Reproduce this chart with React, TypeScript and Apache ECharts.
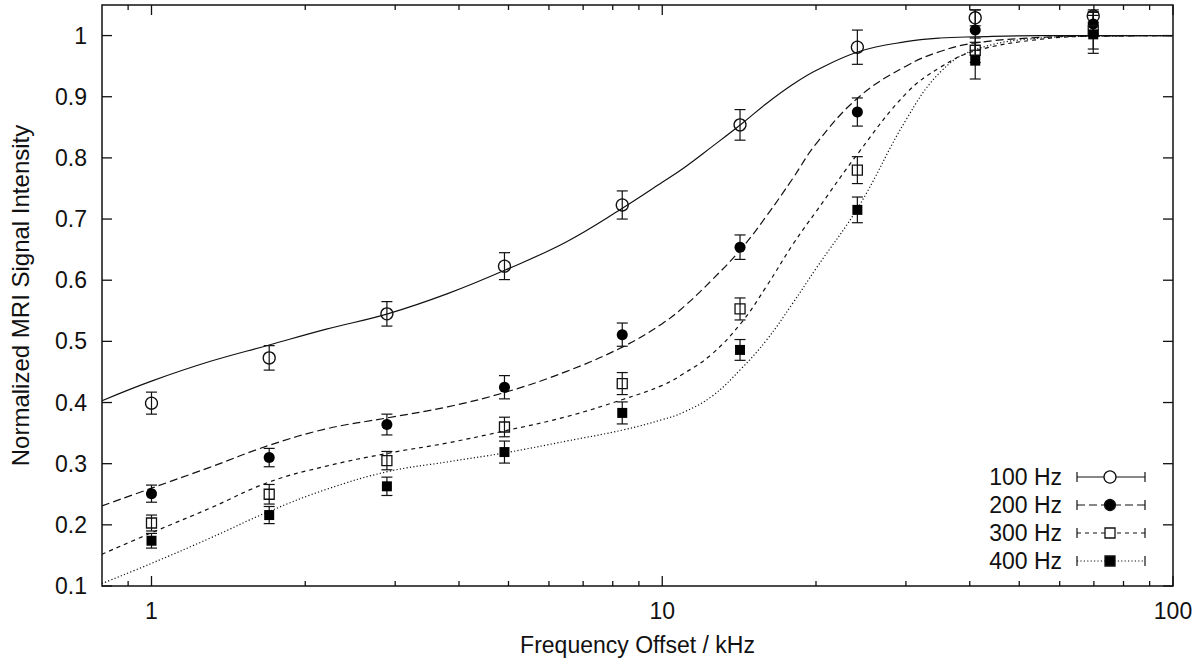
import React, { useEffect, useRef } from "react";
import * as echarts from "echarts";

// ---------- data ----------
const seriesNames = ["100 Hz", "200 Hz", "300 Hz", "400 Hz"];

// measured points (frequency offset in kHz)
const pointX = [1, 1.7, 2.89, 4.91, 8.35, 14.2, 24.1, 41.0, 69.8];
const pts100 = [0.399, 0.473, 0.545, 0.623, 0.723, 0.854, 0.981, 1.029, 1.032];
const err100 = [0.018, 0.02, 0.02, 0.022, 0.023, 0.025, 0.028, 0.013, 0.01];
const pts200 = [0.251, 0.31, 0.364, 0.425, 0.511, 0.654, 0.875, 1.009, 1.019];
const err200 = [0.014, 0.015, 0.017, 0.019, 0.019, 0.02, 0.023, 0.033, 0.02];
const pts300 = [0.203, 0.25, 0.305, 0.36, 0.431, 0.553, 0.78, 0.976, 1.008];
const err300 = [0.013, 0.016, 0.015, 0.016, 0.018, 0.018, 0.022, 0.02, 0.03];
const pts400 = [0.174, 0.216, 0.263, 0.319, 0.383, 0.486, 0.715, 0.959, 1.002];
const err400 = [0.012, 0.014, 0.015, 0.018, 0.018, 0.017, 0.021, 0.03, 0.031];

// fitted curves
const curveX = [0.8, 1, 1.3, 1.7, 2.2, 2.9, 3.8, 4.94, 6.5, 8.37, 10, 11, 12.5, 14.27, 16, 18, 20, 24.3, 30, 35, 41, 55, 70, 100];
const fit100 = [0.403, 0.435, 0.467, 0.494, 0.52, 0.545, 0.578, 0.617, 0.663, 0.718, 0.76, 0.783, 0.818, 0.855, 0.889, 0.92, 0.943, 0.974, 0.99, 0.996, 0.998, 1.0, 1.0, 1.0];
const fit200 = [0.231, 0.26, 0.294, 0.33, 0.357, 0.375, 0.393, 0.417, 0.451, 0.491, 0.529, 0.556, 0.6, 0.651, 0.705, 0.766, 0.823, 0.9, 0.95, 0.974, 0.988, 0.997, 0.999, 1.0];
const fit300 = [0.152, 0.187, 0.227, 0.27, 0.296, 0.317, 0.334, 0.354, 0.377, 0.405, 0.428, 0.447, 0.479, 0.53, 0.59, 0.658, 0.712, 0.81, 0.905, 0.948, 0.975, 0.994, 0.999, 1.0];
const fit400 = [0.104, 0.137, 0.178, 0.222, 0.258, 0.287, 0.303, 0.318, 0.337, 0.355, 0.372, 0.384, 0.41, 0.455, 0.502, 0.562, 0.619, 0.722, 0.862, 0.94, 0.977, 0.996, 0.999, 1.0];

// axis ticks
const xMajorTicks = [1, 10, 100];
const xMinorTicks = [0.9, 2, 3, 4, 5, 6, 7, 8, 9, 20, 30, 40, 50, 60, 70, 80, 90];
const yTicks = [0.1, 0.2, 0.3, 0.4, 0.5, 0.6, 0.7, 0.8, 0.9, 1.0];

const xTitle = "Frequency Offset / kHz";
const yTitle = "Normalized MRI Signal Intensity";

// ---------- styles ----------
const INK = "#111";
const FONT = "'Liberation Sans', Arial, Helvetica, sans-serif";
const FS = 23;
const dashes: any[] = ["solid", [8, 4], [4, 4], [1.2, 2.2]];
const symbols = ["circle", "circle", "rect", "rect"];
const filled = [false, true, false, true];
const symSizes = [12, 11, 10, 10];

const App: React.FC = () => {
  const ref = useRef<HTMLDivElement>(null);

  useEffect(() => {
    if (!ref.current) return;
    const chart = echarts.init(ref.current, undefined, { renderer: "svg" });

    const fits = [fit100, fit200, fit300, fit400];
    const pts = [pts100, pts200, pts300, pts400];
    const errs = [err100, err200, err300, err400];

    const lineSeries = fits.map((f, i) => ({
      type: "line",
      name: seriesNames[i] + " fit",
      data: curveX.map((x, j) => [x, f[j]]),
      smooth: 0.4,
      showSymbol: false,
      symbol: "none",
      silent: true,
      z: 2,
      lineStyle: { color: INK, width: 1.2, type: dashes[i] },
    }));

    const errSeries = pts.map((p, i) => ({
      type: "custom",
      name: seriesNames[i] + " err",
      silent: true,
      clip: true,
      z: 3,
      encode: { x: 0, y: [1, 2] },
      data: pointX.map((x, j) => [x, p[j] - errs[i][j], p[j] + errs[i][j]]),
      renderItem: (params: any, api: any) => {
        const lo = api.coord([api.value(0), api.value(1)]);
        const hi = api.coord([api.value(0), api.value(2)]);
        const w = 5.5;
        const st = { stroke: INK, lineWidth: 1.2 };
        return {
          type: "group",
          children: [
            { type: "line", shape: { x1: lo[0], y1: lo[1], x2: hi[0], y2: hi[1] }, style: st },
            { type: "line", shape: { x1: lo[0] - w, y1: lo[1], x2: lo[0] + w, y2: lo[1] }, style: st },
            { type: "line", shape: { x1: hi[0] - w, y1: hi[1], x2: hi[0] + w, y2: hi[1] }, style: st },
          ],
        };
      },
    }));

    const scatterSeries = pts.map((p, i) => ({
      type: "scatter",
      name: seriesNames[i],
      data: pointX.map((x, j) => [x, p[j]]),
      symbol: symbols[i],
      symbolSize: symSizes[i],
      z: 4,
      itemStyle: filled[i]
        ? { color: "#000", borderColor: "#000", borderWidth: 0, opacity: 1 }
        : { color: "rgba(0,0,0,0)", borderColor: INK, borderWidth: 1.3, opacity: 1 },
    }));

    const xTickSeries = (vals: number[], len: number) => ({
      type: "custom",
      silent: true,
      z: 5,
      encode: { x: 0, y: 1 },
      data: vals.map((v) => [v, 0.5]),
      renderItem: (params: any, api: any) => {
        const cs = params.coordSys;
        const px = api.coord([api.value(0), api.value(1)])[0];
        const st = { stroke: INK, lineWidth: 1.3 };
        const b = cs.y + cs.height;
        return {
          type: "group",
          children: [
            { type: "line", shape: { x1: px, y1: b, x2: px, y2: b - len }, style: st },
            { type: "line", shape: { x1: px, y1: cs.y, x2: px, y2: cs.y + len }, style: st },
          ],
        };
      },
    });

    const yTickSeries = {
      type: "custom",
      silent: true,
      z: 5,
      encode: { x: 0, y: 1 },
      data: yTicks.map((v) => [1, v]),
      renderItem: (params: any, api: any) => {
        const cs = params.coordSys;
        const py = api.coord([api.value(0), api.value(1)])[1];
        const st = { stroke: INK, lineWidth: 1.3 };
        const r = cs.x + cs.width;
        return {
          type: "group",
          children: [
            { type: "line", shape: { x1: cs.x, y1: py, x2: cs.x + 10, y2: py }, style: st },
            { type: "line", shape: { x1: r, y1: py, x2: r - 10, y2: py }, style: st },
          ],
        };
      },
    };

    // legend built as graphics
    const legendRight = 1062;
    const legendTop = 477;
    const rowGap = 28;
    const sx1 = 1077;
    const sx2 = 1145;
    const sm = 1110;
    const legendEls: any[] = [];
    seriesNames.forEach((nm, i) => {
      const y = legendTop + i * rowGap;
      const st: any = { stroke: INK, lineWidth: 1.2 };
      if (Array.isArray(dashes[i])) st.lineDash = dashes[i];
      legendEls.push({
        type: "text",
        x: legendRight,
        y,
        style: { text: nm, fill: INK, font: `${FS}px ${FONT}`, textAlign: "right", textVerticalAlign: "middle" },
      });
      legendEls.push({ type: "line", shape: { x1: sx1, y1: y, x2: sx2, y2: y }, style: st });
      legendEls.push({ type: "line", shape: { x1: sx1, y1: y - 5, x2: sx1, y2: y + 5 }, style: { stroke: INK, lineWidth: 1.2 } });
      legendEls.push({ type: "line", shape: { x1: sx2, y1: y - 5, x2: sx2, y2: y + 5 }, style: { stroke: INK, lineWidth: 1.2 } });
      const fill = filled[i] ? "#000" : "#fff";
      if (symbols[i] === "circle") {
        legendEls.push({ type: "circle", shape: { cx: sm, cy: y, r: symSizes[i] / 2 }, style: { fill, stroke: INK, lineWidth: 1.3 } });
      } else {
        const s = symSizes[i];
        legendEls.push({ type: "rect", shape: { x: sm - s / 2, y: y - s / 2, width: s, height: s }, style: { fill, stroke: INK, lineWidth: 1.3 } });
      }
    });

    chart.setOption({
      animation: false,
      backgroundColor: "#fff",
      textStyle: { fontFamily: FONT },
      grid: {
        left: 102,
        right: 29,
        top: 5,
        bottom: 75,
        show: true,
        borderColor: INK,
        borderWidth: 1.5,
        backgroundColor: "transparent",
      },
      xAxis: {
        type: "log",
        logBase: 10,
        min: 0.8,
        max: 100,
        name: xTitle,
        nameLocation: "middle",
        nameGap: 47,
        nameTextStyle: { fontSize: FS, color: INK, fontFamily: FONT },
        axisLine: { show: false },
        axisTick: { show: false },
        splitLine: { show: false },
        minorTick: { show: false },
        axisLabel: {
          fontSize: FS,
          color: INK,
          margin: 13,
          fontFamily: FONT,
          showMinLabel: false,
          formatter: (v: number) => {
            const l = Math.log10(v);
            return Math.abs(l - Math.round(l)) < 1e-6 ? String(Math.round(v)) : "";
          },
        },
      },
      yAxis: {
        type: "value",
        min: 0.1,
        max: 1.05,
        interval: 0.1,
        name: yTitle,
        nameLocation: "middle",
        nameGap: 70,
        nameTextStyle: { fontSize: 24, color: INK, fontFamily: FONT },
        axisLine: { show: false },
        axisTick: { show: false },
        splitLine: { show: false },
        axisLabel: {
          fontSize: FS,
          color: INK,
          margin: 15,
          fontFamily: FONT,
          formatter: (v: number) => {
            const t = v * 10;
            return Math.abs(t - Math.round(t)) < 1e-6 ? String(Math.round(t) / 10) : "";
          },
        },
      },
      series: [
        ...lineSeries,
        ...errSeries,
        ...scatterSeries,
        xTickSeries(xMajorTicks, 10),
        xTickSeries(xMinorTicks, 5),
        yTickSeries,
      ],
      graphic: legendEls,
    } as any);

    return () => chart.dispose();
  }, []);

  return (
    <div
      ref={ref}
      style={{ position: "absolute", left: 0, top: 0, width: 1202, height: 661, background: "#fff" }}
    />
  );
};

export default App;
